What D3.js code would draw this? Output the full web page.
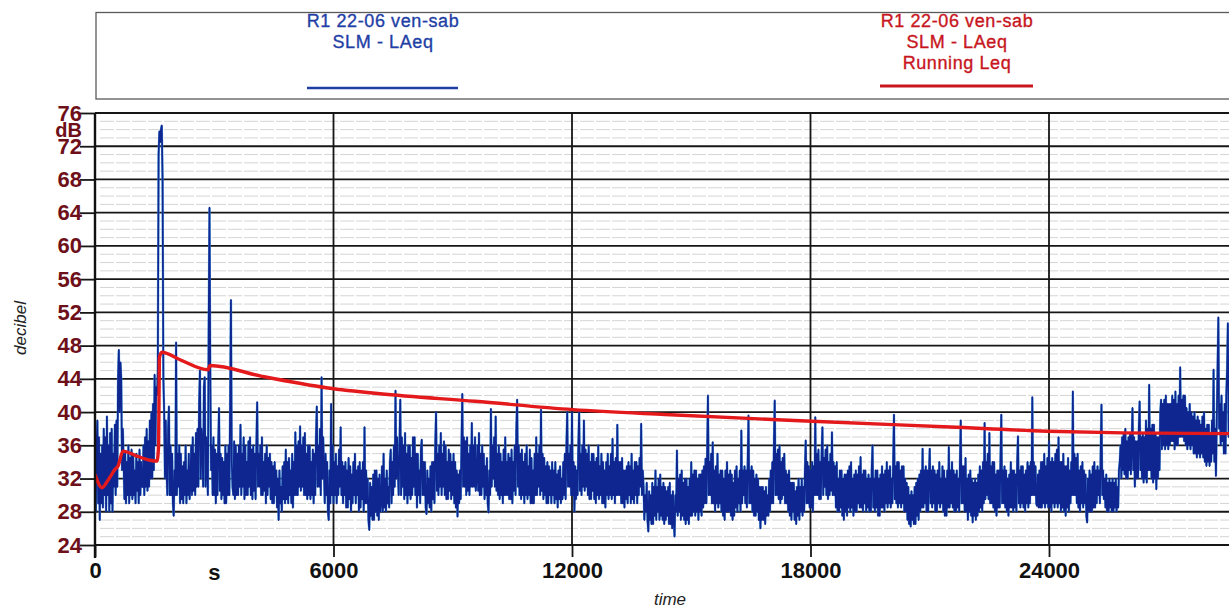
<!DOCTYPE html>
<html>
<head>
<meta charset="utf-8">
<script src="https://cdn.jsdelivr.net/npm/d3@7"></script>
<style>
  body { margin: 0; background: #fff; }
  svg { display: block; }
  text { font-family: "Liberation Sans", Arial, sans-serif; }
</style>
</head>
<body>
<svg id="chart" width="1229" height="609"></svg>
<script>
// LAeq samples, one every 20 s (one row ~ 10 min)
const sampleStep = 20;
const laeq = [
  33, 28, 36, 39, 29, 37, 27, 35, 29, 36, 28.5, 38, 30, 37, 28, 39.5, 30, 36, 28, 37.5, 29, 38, 28, 35, 31, 38.5, 30, 39, 31, 44,
  47.5, 40, 46, 44, 33, 38, 34, 29.5, 35, 29, 34, 30, 36, 29, 34.5, 30, 35.5, 29.5, 35, 30, 33, 29, 35, 30.5, 34, 29, 35.5, 30, 34, 31,
  31, 36, 30, 37, 31, 38, 30.5, 36.5, 31, 39, 32, 40, 32, 41, 33, 44.5, 36, 43, 42, 45, 71, 73.8, 72.5, 74, 74.5, 68, 44, 40, 32, 39,
  33, 30, 38, 40.7, 30, 36, 30, 35, 29, 27.5, 33, 30, 48.4, 30, 35, 31, 36, 29, 35, 29.5, 33.5, 29, 34, 30, 36, 29, 33, 30, 35, 29.5,
  31, 36, 30, 37, 30.5, 35, 30, 37.5, 31, 38, 31, 41, 45, 32, 38, 36, 31, 43, 44.2, 31, 37, 33, 30, 50, 64.6, 45, 33, 36, 30, 37,
  30, 35.5, 29, 35, 30, 36, 40.5, 30.5, 35, 29.5, 34.5, 30, 34, 29, 36, 29, 35, 30, 36, 30, 41, 53.5, 34, 31, 30, 36.5, 29.5, 36, 30, 35,
  30, 36, 31, 38.5, 30, 35, 31, 37, 29.5, 36, 30, 34, 30, 36.5, 31, 37, 30, 35.5, 29.5, 36, 30.5, 35, 29.5, 36, 41.2, 31, 35, 31, 36, 30,
  37, 30, 34, 30.5, 35, 29, 36, 30, 34.5, 31, 35, 29.5, 34, 29, 33.5, 29, 34, 30, 33, 28.5, 32, 27, 33, 29, 31, 28, 33.5, 29.5, 34, 29,
  35.5, 29.5, 34, 29, 34.5, 30, 33, 29, 35, 28.5, 34, 30, 37.6, 30, 36, 30, 36.5, 31, 38.3, 30.5, 36, 31, 37, 30, 37.5, 30, 35, 29.5, 36, 30,
  36, 29.5, 34, 30, 35.5, 29, 35, 30, 37, 40.7, 31, 36, 31, 38, 30, 44.2, 32, 37, 33, 29, 35, 30, 34, 28, 27, 33, 29, 41, 30, 36,
  29, 34, 30, 35, 29, 33.5, 30, 35.5, 31, 38.2, 30, 34, 29, 33.5, 30, 34, 28.5, 33, 28.5, 34.5, 29.5, 33.5, 28, 32.5, 29, 34, 30, 35, 29, 33,
  30, 33.5, 28, 34, 28.5, 33, 29.5, 34, 28, 38.2, 29, 33, 29, 32, 27, 25.8, 31.5, 27.5, 31, 27, 32.5, 27, 33, 28, 33, 27.5, 32, 27, 32.5, 28,
  29, 33.5, 28, 35, 28.5, 32, 28, 33, 29, 31, 28.5, 34, 35.5, 29, 34, 30, 36, 31, 42.6, 32, 37, 33, 30, 36, 41.5, 30, 37, 31, 36, 29.5,
  37.5, 30, 35, 29, 36, 30, 36, 29.5, 34.5, 30, 37, 31, 37, 30, 35, 28.5, 35, 30, 33, 29, 35.5, 36.7, 30, 34, 30, 34, 28.5, 27.7, 33, 29,
  32, 28.5, 33.5, 28, 34, 29.5, 34, 29, 36, 40, 30.5, 35, 30, 36, 31, 37.5, 30, 35, 31, 36.5, 30, 36, 29.5, 34, 29.5, 35.5, 30.5, 35, 29.5, 34,
  30, 35, 29, 34, 28.5, 33, 27.4, 32.5, 29, 33, 29.5, 36, 42.2, 31, 37, 31, 36.5, 30, 37, 30.5, 35, 30, 36, 31, 38.7, 31, 36, 31, 37, 30.5,
  32, 36, 30.5, 37.5, 30, 35, 30, 36, 31, 35, 29.5, 33.5, 30, 34.5, 29, 27.9, 33, 30, 40.4, 31, 36, 32, 37, 31, 39.5, 30.5, 35, 30, 36, 29.5,
  35, 30, 34, 29, 35.5, 30, 37, 30, 34, 30, 35, 29.5, 34.5, 29.5, 35.5, 29, 34, 30.5, 36, 30, 38, 41.5, 31, 36, 30, 35, 29.5, 35.5, 30, 34,
  29, 35, 30, 36, 29.5, 33.5, 30, 35.5, 29, 34.5, 29, 33, 29, 35, 30, 37, 30, 35, 31, 36, 30, 40.3, 30.5, 35, 29.5, 34.5, 30, 33.5, 29, 34,
  29, 33.5, 30, 33, 29, 34, 30, 33, 29, 34, 29.5, 32.5, 28.5, 33, 29.5, 33.5, 29, 32, 29.5, 34, 30, 35, 29.5, 36, 40, 31, 35, 31, 36, 30,
  40, 30, 34, 28, 33.5, 29.5, 33, 30, 36, 40.2, 30.5, 35, 30, 36, 31, 39, 30.5, 35.5, 31, 35, 30, 36, 29.5, 34, 29.5, 35, 30.5, 35, 29.5, 34,
  29, 34.5, 30, 36, 29.5, 33.5, 30, 35, 29, 34, 29, 33, 28.5, 34, 30, 35, 29.5, 33.5, 30, 35, 29.5, 36.8, 30, 34, 29, 34.5, 30, 38.5, 30, 34,
  30, 34, 29, 34.5, 29, 33, 28.5, 33, 29.5, 33.5, 29, 34, 30, 33.5, 29, 35, 29.5, 33, 29, 34, 30, 34, 29, 33.5, 30, 34.5, 31, 38.6, 30, 33,
  31, 27, 30, 28, 31.5, 27, 25.6, 30.5, 27, 30, 26.5, 31.5, 26.5, 31, 27.5, 33, 27, 31, 28, 32, 27, 32.5, 27.5, 31, 27, 31.5, 26.5, 31, 27, 30.5,
  27.5, 31, 26.5, 31.5, 26.5, 30, 26, 30.5, 27, 25, 30, 28, 35.4, 27.5, 32, 28, 32.5, 27, 33, 27.5, 31.5, 27, 32, 26.5, 32, 27, 31, 26.5, 32, 27.5,
  34, 27.5, 32.5, 28, 33, 27.5, 33, 28, 32, 27, 32.5, 28, 32.5, 27.5, 33, 28.5, 33.5, 29, 34.4, 29, 35, 42, 30, 34, 30, 35, 29, 36.4, 29, 33,
  28, 33.5, 29, 35, 28.5, 32.5, 29, 33, 28, 33, 27.5, 32, 27, 33, 28, 34, 28, 32.5, 28, 33, 27.5, 32.5, 27, 31.5, 27.5, 33, 28.5, 33.5, 28, 32,
  29, 33, 28, 37.8, 29, 33, 30, 33.5, 29, 33, 28.5, 34, 39.6, 29, 33, 29, 33.5, 28, 33, 27.5, 32, 27.5, 32.5, 28, 32, 27, 31, 26, 31, 27,
  31, 27, 30.5, 26.5, 31, 27.5, 30, 27.5, 32, 28, 33, 29, 34, 29, 36, 41.4, 30, 35, 30, 35.5, 29.5, 36, 29, 34, 29.5, 34.5, 30, 35, 29, 33,
  29, 32.5, 28, 33, 27.5, 31.5, 27, 31.5, 28, 31.5, 27, 30.5, 26.5, 31, 27.5, 32, 27, 31, 28, 32, 27.5, 31, 28, 33, 36.6, 29, 34, 29, 33.5, 28.5,
  33, 28.5, 34, 28, 33.5, 30, 39.4, 30, 35, 30, 35.5, 29.5, 34, 29.5, 35, 38.2, 30, 34.5, 31, 35.5, 30, 36, 29.5, 34, 30, 35, 30.5, 37.6, 30, 34,
  30, 33.5, 28.5, 34, 28, 32, 28, 33, 28.5, 33, 27.5, 32, 27, 32.5, 28, 32.5, 27.5, 33, 28.5, 33.5, 28, 34, 28.5, 32, 27.5, 32.5, 28, 33, 28, 32.5,
  29, 33.5, 28.5, 34.6, 28.5, 32.5, 28, 33, 29, 33, 28, 32, 28.5, 32.5, 28, 32, 28, 33, 36, 28.5, 32, 28, 33, 28.5, 33, 27.5, 32, 27.5, 32.5, 28.5,
  33.5, 28.5, 32.5, 28, 33, 29, 34, 28.5, 33, 29, 33.5, 28.5, 32, 29, 34, 39.7, 29.5, 33.5, 29, 34, 28.5, 34, 29, 33, 28.5, 33.5, 29, 33.5, 28, 32,
  28, 31.5, 27, 31, 26.5, 30, 26.2, 30.5, 27, 30, 26.5, 31, 26.5, 31.5, 27.5, 32, 27, 32.5, 28, 33, 28.5, 35.6, 28.5, 33, 29, 33.5, 28, 33, 28, 32.5,
  35.6, 29, 33, 28.5, 33.5, 29, 33, 28, 32.5, 28, 33, 29, 34, 28.5, 32, 29, 33.5, 28, 33, 27.5, 32, 27.5, 33, 28.5, 35.8, 28.5, 33, 29, 34, 28.5,
  33, 28, 32.5, 28, 33, 28.5, 32, 28, 34, 39, 29, 33.5, 29, 33.5, 28, 34.5, 28, 32, 27, 32.5, 28, 33, 27.5, 32, 26.7, 31.5, 27.5, 32, 27, 31.5,
  27.5, 32.5, 28, 33.5, 28.5, 33, 28, 34, 29, 38.7, 29.5, 34, 30, 35, 29.5, 37.5, 29, 33.5, 29, 34, 28.5, 34, 28, 32.5, 27.5, 33, 28.5, 33, 28.5, 34.5,
  39.7, 29, 33, 29, 33.5, 28.5, 33, 28, 32, 27.5, 32.5, 28.5, 34, 28.5, 33, 28, 33, 28.5, 32.5, 28, 34, 37.1, 29, 33, 28.5, 33.5, 29, 33.5, 28.5, 32.5,
  28, 33, 29, 34, 28.5, 33.5, 29, 34, 30, 41.8, 30, 34, 30, 33.5, 29, 28.7, 32.5, 28.5, 33, 28.5, 34, 28.5, 34, 29, 35, 28.5, 33.5, 29, 34.5, 28.5,
  36.5, 28.5, 34, 28, 34.5, 29, 34, 28.5, 35, 29, 35.5, 28.5, 37, 29, 34, 28, 34, 28.5, 35, 28, 33.5, 27.5, 33.5, 28.5, 34.5, 28, 33, 29, 34, 30,
  42.5, 30, 35, 30, 34.5, 29, 35, 28.5, 33, 28, 33.5, 29, 34, 28.5, 33, 29, 32.5, 27.5, 26.7, 32, 28, 33, 28, 32.5, 28, 33.5, 28.5, 34, 28.5, 33,
  29, 33.5, 30, 33, 29, 35, 40.9, 30, 33, 29.5, 32, 28.5, 32.5, 28, 31.5, 28, 32, 28.5, 31.5, 28, 32, 28, 31.5, 28.5, 32, 28, 31, 28.5, 33, 34,
  36, 32, 37, 33, 37.5, 32.5, 38, 32, 36.5, 32, 37, 33, 37.5, 32.5, 36, 40.5, 33, 37, 31, 36.5, 32, 36.5, 32, 38, 41.3, 33, 37, 32, 37.5, 31.5,
  37, 32, 39, 31.5, 38, 33, 43.3, 33, 38, 32, 38.5, 31.5, 38.5, 32, 37.5, 30.7, 37, 32, 37, 33, 40, 41.5, 35.5, 41, 36, 41.5, 35.5, 42, 36, 41,
  35.5, 41, 36, 41, 36.5, 42, 36.5, 41.5, 35.5, 42.5, 36, 41, 36, 42, 37, 45.4, 37, 41.5, 37, 42, 36.5, 42, 36, 40.5, 35.5, 40, 36, 41, 35.5, 40,
  36, 39.5, 35, 40, 35, 39, 34.5, 39.5, 35, 39, 34.5, 38.5, 35, 39.5, 34.5, 40, 34, 38, 33.5, 38.5, 34, 38.5, 33.5, 37.5, 34, 39, 35, 45.1, 34, 38,
  32.3, 39, 45, 51.4, 38, 41, 36, 42, 36.5, 40, 35, 41, 35, 42, 45, 50.7, 37, 42, 38
];

// Running Leq
const runTime = [0, 176, 327, 503, 579, 704, 1006, 1384, 1560, 1600, 1620, 1680, 2139, 2843, 2893,
  4201, 5862, 7170, 9560, 12025, 14340, 18040, 21510, 23950, 25860, 28600];
const runLeq = [32.5, 30.9, 31.8, 33.1, 33.5, 35.3, 34.8, 34.2, 34.1, 36, 46.5, 47.2, 46.3, 45.1, 45.6,
  44.3, 42.9, 42.2, 41.3, 40.3, 39.7, 38.9, 38.2, 37.7, 37.5, 37.4];

const yTicks = [24, 28, 32, 36, 40, 44, 48, 52, 56, 60, 64, 68, 72, 76];
const xTicks = [0, 6000, 12000, 18000, 24000];
const legendBlue = ['R1 22-06 ven-sab', 'SLM - LAeq'];
const legendRed = ['R1 22-06 ven-sab', 'SLM - LAeq', 'Running Leq'];

const W = 1229, H = 609;
const plotLeft = 95, plotTop = 113, plotBottom = 545;
const blue = '#0f2590', red = '#e3191c', tickRed = '#6e1019';

const svg = d3.select('#chart');
svg.append('rect').attr('width', W).attr('height', H).attr('fill', '#fff');

const x = d3.scaleLinear().domain([0, 30000]).range([plotLeft, plotLeft + 5 * 238.5]);
const y = d3.scaleLinear().domain([24, 76]).range([plotBottom, plotTop]);

svg.append('clipPath').attr('id', 'plot')
  .append('rect').attr('x', plotLeft).attr('y', plotTop - 2)
  .attr('width', W - plotLeft).attr('height', plotBottom - plotTop + 4);

// minor grid, each dB
const minor = d3.range(25, 76).filter(v => v % 4 !== 0);
svg.append('g').selectAll('line').data(minor).join('line')
  .attr('x1', plotLeft + 5).attr('x2', W)
  .attr('y1', d => y(d)).attr('y2', d => y(d))
  .attr('stroke', '#cfcfcf').attr('stroke-width', 0.9)
  .attr('stroke-dasharray', '14,2');

// major grid
svg.append('g').selectAll('line').data(yTicks).join('line')
  .attr('x1', plotLeft).attr('x2', W)
  .attr('y1', d => y(d)).attr('y2', d => y(d))
  .attr('stroke', '#161616').attr('stroke-width', 1.8);
svg.append('g').selectAll('line').data(xTicks.slice(1)).join('line')
  .attr('x1', d => x(d)).attr('x2', d => x(d))
  .attr('y1', plotTop).attr('y2', plotBottom)
  .attr('stroke', '#161616').attr('stroke-width', 1.8);

// series
const plot = svg.append('g').attr('clip-path', 'url(#plot)');
const blueLine = d3.line().x((d, i) => x(i * sampleStep)).y(d => y(d));
plot.append('path').datum(laeq).attr('d', blueLine)
  .attr('fill', 'none').attr('stroke', '#3f9fe0').attr('stroke-width', 2.4).attr('opacity', 0.8);
plot.append('path').datum(laeq).attr('d', blueLine)
  .attr('fill', 'none').attr('stroke', blue).attr('stroke-width', 1.7).attr('stroke-linejoin', 'round');

const redLine = d3.line().x(d => x(d[0])).y(d => y(d[1])).curve(d3.curveMonotoneX);
plot.append('path').datum(runTime.map((t, i) => [t, runLeq[i]])).attr('d', redLine)
  .attr('fill', 'none').attr('stroke', red).attr('stroke-width', 3.4).attr('stroke-linejoin', 'round');

// axes
const yAxis = svg.append('g').attr('transform', `translate(${plotLeft},0)`)
  .call(d3.axisLeft(y).tickValues(yTicks).tickSize(15).tickPadding(-2));
yAxis.select('.domain').remove();
yAxis.selectAll('line').attr('stroke', '#161616').attr('stroke-width', 1.8);
yAxis.selectAll('text')
  .attr('fill', tickRed).attr('font-size', 22).attr('font-weight', 'bold')
  .attr('font-family', '"Liberation Sans", Arial, sans-serif');

const xAxis = svg.append('g').attr('transform', `translate(0,${plotBottom})`)
  .call(d3.axisBottom(x).tickValues(xTicks).tickFormat(d3.format('d')).tickSize(12).tickPadding(5));
xAxis.select('.domain').remove();
xAxis.selectAll('line').attr('stroke', '#161616').attr('stroke-width', 1.8);
xAxis.selectAll('text')
  .attr('fill', '#111').attr('font-size', 22).attr('font-weight', 'bold')
  .attr('font-family', '"Liberation Sans", Arial, sans-serif');

// left axis line
svg.append('line').attr('x1', plotLeft).attr('x2', plotLeft).attr('y1', plotTop).attr('y2', plotBottom + 13)
  .attr('stroke', '#111').attr('stroke-width', 2.4);

// unit labels
svg.append('text').attr('x', 82).attr('y', 137).attr('text-anchor', 'end')
  .attr('fill', tickRed).attr('font-size', 20).attr('font-weight', 'bold').text('dB');
svg.append('text').attr('x', x(3000)).attr('y', 580).attr('text-anchor', 'middle')
  .attr('fill', '#111').attr('font-size', 22).attr('font-weight', 'bold').text('s');

// axis titles
svg.append('text').attr('transform', 'translate(26,328) rotate(-90)').attr('text-anchor', 'middle')
  .attr('font-size', 17).attr('font-style', 'italic').attr('fill', '#222').text('decibel');
svg.append('text').attr('x', 670).attr('y', 605).attr('text-anchor', 'middle')
  .attr('font-size', 17).attr('font-style', 'italic').attr('fill', '#222').text('time');

// legend
svg.append('rect').attr('x', 96).attr('y', 12.5).attr('width', 1200).attr('height', 86.5)
  .attr('fill', 'none').attr('stroke', '#5a5a5a').attr('stroke-width', 1.3);

const legend = [
  { lines: legendBlue, color: '#1f3fa6', cx: 383, x1: 307, x2: 458, ly: 88, w: 2.4 },
  { lines: legendRed, color: '#c8161e', cx: 957, x1: 880, x2: 1033, ly: 86, w: 3.2 }
];
legend.forEach(l => {
  svg.append('g').selectAll('text').data(l.lines).join('text')
    .attr('x', l.cx).attr('y', (d, i) => 27 + i * 21)
    .attr('text-anchor', 'middle').attr('font-size', 18).attr('letter-spacing', 0.6)
    .attr('fill', l.color).attr('stroke', l.color).attr('stroke-width', 0.35)
    .text(d => d);
  svg.append('line').attr('x1', l.x1).attr('x2', l.x2).attr('y1', l.ly).attr('y2', l.ly)
    .attr('stroke', l.color).attr('stroke-width', l.w);
});
</script>
</body>
</html>
